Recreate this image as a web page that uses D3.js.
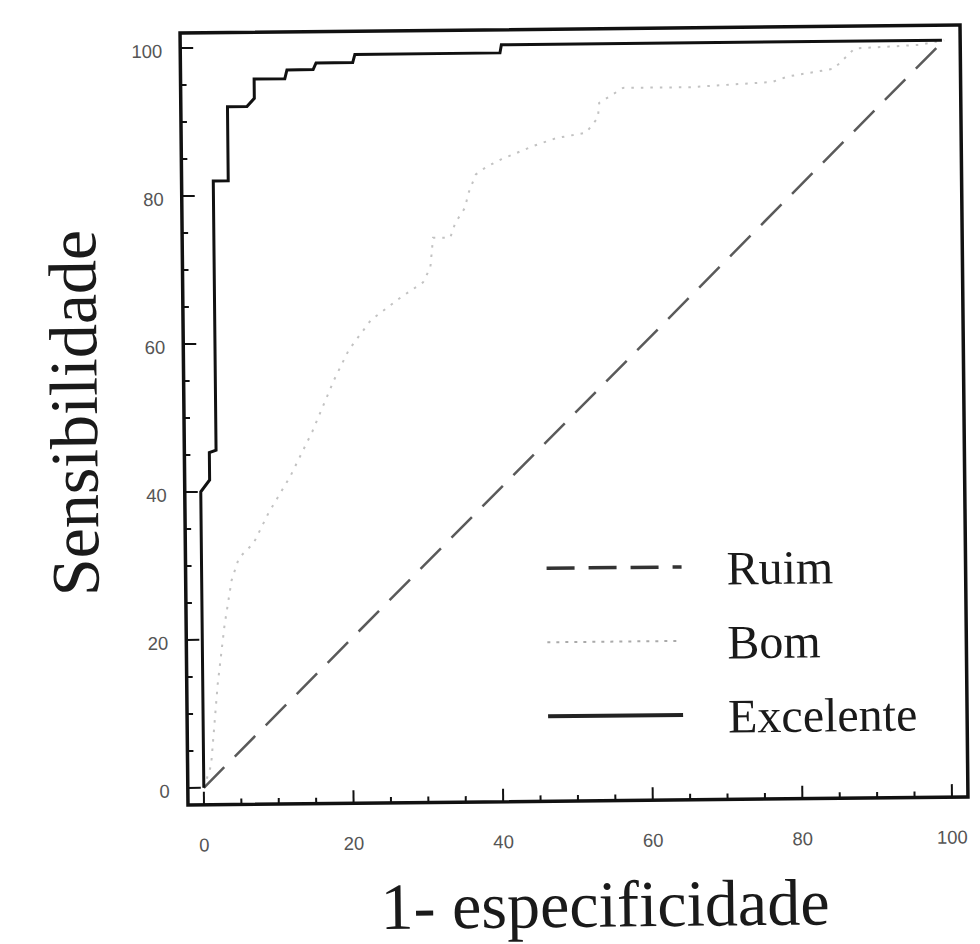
<!DOCTYPE html>
<html>
<head>
<meta charset="utf-8">
<script src="https://cdn.jsdelivr.net/npm/d3@7"></script>
<style>
  html, body { margin: 0; padding: 0; background: #fff; }
  svg { display: block; }
</style>
</head>
<body>
<svg id="chart" width="980" height="944"></svg>
<script>
// ---- data ----
const xTickLabels = ["0", "20", "40", "60", "80", "100"];
const yTickLabels = ["0", "20", "40", "60", "80", "100"];
const xTickValues = [0, 20, 40, 60, 80, 100];
const yTickValues = [0, 20, 40, 60, 80, 100];

const seriesNames = ["Ruim", "Bom", "Excelente"];

const ruimX = [0, 100];
const ruimY = [0, 100];

const bomX = [0, 1, 2, 3, 4, 5, 7, 9, 12, 15, 18, 20, 23, 27, 30, 31, 31.4, 33.7, 34.4, 35.7, 36.2, 37.2, 38.6, 40.6, 45, 48, 52, 53.6, 53.8, 57, 66, 77, 79, 85.2, 87, 88, 96.7, 100];
const bomY = [0, 3, 14, 22, 28, 31, 33, 37, 42, 48, 55, 59, 63, 66, 68, 70, 74, 74, 76, 78, 80, 82.5, 83.5, 84.5, 86.3, 87.3, 88, 90, 92, 94, 94, 94.6, 95.3, 96.3, 98, 99, 99.4, 100];

const excX = [0, 0, 1.2, 1.2, 2.1, 2.1, 4.1, 4.1, 6.7, 7.7, 7.7, 11.8, 12.1, 15.6, 16, 20.9, 21.2, 40.6, 40.8, 99.7];
const excY = [0, 40, 41.6, 45.3, 45.6, 82, 82, 92, 92, 93.1, 95.7, 95.7, 96.9, 96.9, 97.8, 97.8, 98.9, 98.9, 100, 100];

// ---- layout ----
const svg = d3.select("#chart");
const root = svg.append("g").attr("transform", "rotate(-0.59, 574, 415)");

const frame = { left: 184, right: 964, top: 29, bottom: 801 };
const x = d3.scaleLinear().domain([0, 100]).range([200, 948]);
const y = d3.scaleLinear().domain([0, 100]).range([784, 44]);

const zip = (xs, ys) => xs.map((v, i) => [v, ys[i]]);
const line = d3.line().x(d => x(d[0])).y(d => y(d[1]));

// ticks (inward)
const minor = d3.range(0, 101, 5);
const tickG = root.append("g");
tickG.selectAll("line.xt").data(minor).join("line")
  .attr("x1", d => x(d)).attr("x2", d => x(d))
  .attr("y1", frame.bottom).attr("y2", d => frame.bottom - (d % 20 === 0 ? 13 : 6))
  .attr("stroke", "#111").attr("stroke-width", 2);
tickG.selectAll("line.yt").data(minor).join("line")
  .attr("y1", d => y(d)).attr("y2", d => y(d))
  .attr("x1", frame.left).attr("x2", d => frame.left + (d % 20 === 0 ? 13 : 6))
  .attr("stroke", "#111").attr("stroke-width", 2);

// tick labels
const labelFont = "'Liberation Sans', Arial, sans-serif";
root.append("g").selectAll("text").data(xTickValues).join("text")
  .attr("x", d => x(d)).attr("y", 841)
  .attr("text-anchor", "middle").attr("dominant-baseline", "central")
  .attr("font-family", labelFont).attr("font-size", 18.5).attr("fill", "#555")
  .text((d, i) => xTickLabels[i]);
root.append("g").selectAll("text").data(yTickValues).join("text")
  .attr("x", 166).attr("y", d => y(d) + 3)
  .attr("text-anchor", "end").attr("dominant-baseline", "central")
  .attr("font-family", labelFont).attr("font-size", 18.5).attr("fill", "#555")
  .text((d, i) => yTickLabels[i]);

// series
root.append("path").datum(zip(bomX, bomY)).attr("d", line)
  .attr("fill", "none").attr("stroke", "#c2c2c2").attr("stroke-width", 2)
  .attr("stroke-dasharray", "2.5,7");
root.append("path").datum(zip(ruimX, ruimY)).attr("d", line)
  .attr("fill", "none").attr("stroke", "#5a5a5a").attr("stroke-width", 2.5)
  .attr("stroke-dasharray", "29,15");
root.append("path").datum(zip(excX, excY)).attr("d", line)
  .attr("fill", "none").attr("stroke", "#111").attr("stroke-width", 3);

// frame
root.append("rect")
  .attr("x", frame.left).attr("y", frame.top)
  .attr("width", frame.right - frame.left).attr("height", frame.bottom - frame.top)
  .attr("fill", "none").attr("stroke", "#111").attr("stroke-width", 3.5);

// legend
const serif = "'Liberation Serif', 'Times New Roman', serif";
const legendStyles = [
  { stroke: "#333", width: 3.5, dash: "28,14" },
  { stroke: "#aaa", width: 2, dash: "3,6" },
  { stroke: "#222", width: 4, dash: null }
];
const legendY = [568, 642, 716];
const lg = root.append("g");
seriesNames.forEach((name, i) => {
  const st = legendStyles[i];
  lg.append("line")
    .attr("x1", 545).attr("x2", 680).attr("y1", legendY[i]).attr("y2", legendY[i])
    .attr("stroke", st.stroke).attr("stroke-width", st.width)
    .attr("stroke-dasharray", st.dash);
  lg.append("text")
    .attr("x", 725).attr("y", legendY[i] + 18)
    .attr("font-family", serif).attr("font-size", 48).attr("fill", "#1a1a1a")
    .text(name);
});

// axis titles
root.append("text")
  .attr("x", 600).attr("y", 927)
  .attr("text-anchor", "middle")
  .attr("font-family", serif).attr("font-size", 66).attr("fill", "#1a1a1a")
  .text("1- especificidade");
root.append("text")
  .attr("transform", "translate(97, 408) rotate(-90)")
  .attr("text-anchor", "middle")
  .attr("font-family", serif).attr("font-size", 68).attr("fill", "#1a1a1a")
  .text("Sensibilidade");
</script>
</body>
</html>
